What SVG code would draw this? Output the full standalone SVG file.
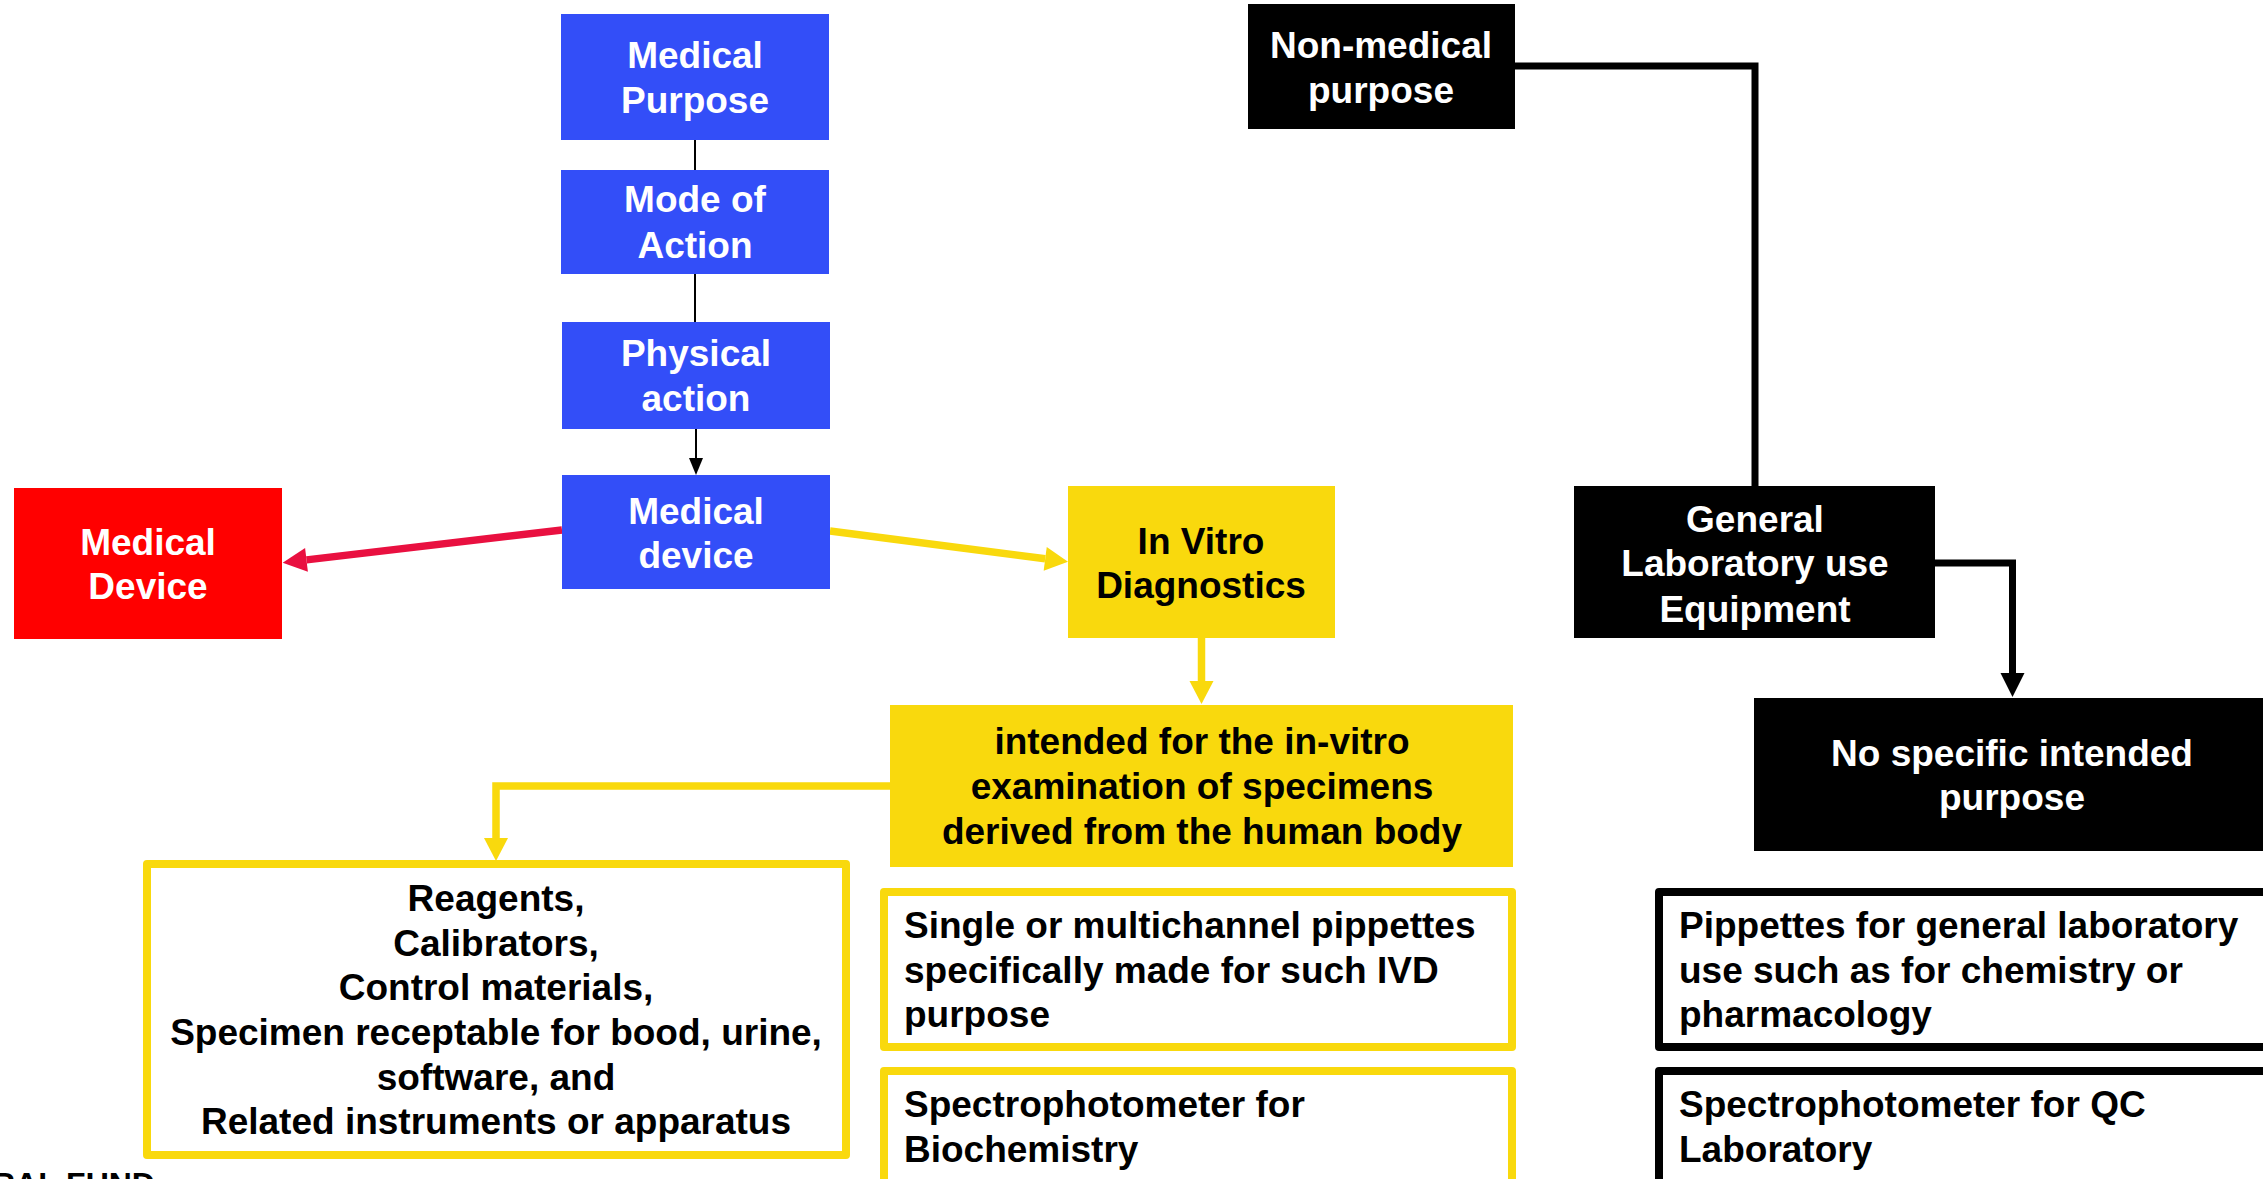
<svg xmlns="http://www.w3.org/2000/svg" width="2263" height="1179" viewBox="0 0 2263 1179">
  <style>
    text { font-family: "Liberation Sans", Arial, sans-serif; font-weight: bold; font-size: 37px; }
    .c { text-anchor: middle; }
    .w { fill: #ffffff; }
    .k { fill: #000000; }
    .blue { fill: #334EF8; }
    .red { fill: #FF0000; }
    .yel { fill: #F9D90D; }
    .blk { fill: #000000; }
    .ybox { fill: #ffffff; stroke: #F9D90D; stroke-width: 8; stroke-linejoin: round; }
    .kbox { fill: #ffffff; stroke: #000000; stroke-width: 8; stroke-linejoin: round; }
    .thin { fill: none; stroke: #000000; stroke-width: 2; }
    .ylw { fill: none; stroke: #F9D90D; stroke-width: 7.5; }
    .crim { fill: none; stroke: #E91040; stroke-width: 7.5; }
    .thick { fill: none; stroke: #000000; stroke-width: 7; }
  </style>
  <defs>
    <marker id="headThin" markerUnits="userSpaceOnUse" markerWidth="17" markerHeight="14" refX="0" refY="7" orient="auto" overflow="visible">
      <path d="M0,0 L17,7 L0,14 z" fill="#000000"/>
    </marker>
    <marker id="headRed" markerUnits="userSpaceOnUse" markerWidth="24" markerHeight="24" refX="0" refY="12" orient="auto" overflow="visible">
      <path d="M0,0 L24,12 L0,24 z" fill="#E91040"/>
    </marker>
    <marker id="headYellow" markerUnits="userSpaceOnUse" markerWidth="23" markerHeight="24" refX="0" refY="12" orient="auto" overflow="visible">
      <path d="M0,0 L23,12 L0,24 z" fill="#F9D90D"/>
    </marker>
    <marker id="headBlack" markerUnits="userSpaceOnUse" markerWidth="24" markerHeight="24" refX="0" refY="12" orient="auto" overflow="visible">
      <path d="M0,0 L24,12 L0,24 z" fill="#000000"/>
    </marker>
  </defs>

  <rect width="2263" height="1179" fill="#ffffff"/>

  <!-- connectors -->
  <g id="connectors">
    <path class="thin" d="M695,140 V170"/>
    <path class="thin" d="M695,274 V322"/>
    <path class="thin" d="M696,429 V458" marker-end="url(#headThin)"/>
    <path class="crim" d="M562,530 L306.5,559.9" marker-end="url(#headRed)"/>
    <path class="ylw" d="M830,531 L1045.2,558.8" marker-end="url(#headYellow)"/>
    <path class="ylw" d="M1201.5,638 V681" marker-end="url(#headYellow)"/>
    <path class="ylw" d="M890,786 H496 V838" marker-end="url(#headYellow)"/>
    <path class="thick" d="M1515,66 H1755 V486"/>
    <path class="thick" d="M1935,563 H2012.5 V673" marker-end="url(#headBlack)"/>
  </g>

  <g id="medical-purpose">
    <rect class="blue" x="561" y="14" width="268" height="126"/>
    <text class="c w" x="695" y="68">Medical</text>
    <text class="c w" x="695" y="113">Purpose</text>
  </g>

  <g id="mode-of-action">
    <rect class="blue" x="561" y="170" width="268" height="104"/>
    <text class="c w" x="695" y="212">Mode of</text>
    <text class="c w" x="695" y="258">Action</text>
  </g>

  <g id="physical-action">
    <rect class="blue" x="562" y="322" width="268" height="107"/>
    <text class="c w" x="696" y="366">Physical</text>
    <text class="c w" x="696" y="411">action</text>
  </g>

  <g id="medical-device">
    <rect class="blue" x="562" y="475" width="268" height="114"/>
    <text class="c w" x="696" y="524">Medical</text>
    <text class="c w" x="696" y="568">device</text>
  </g>

  <g id="medical-device-class">
    <rect class="red" x="14" y="488" width="268" height="151"/>
    <text class="c w" x="148" y="555">Medical</text>
    <text class="c w" x="148" y="599">Device</text>
  </g>

  <g id="in-vitro-diagnostics">
    <rect class="yel" x="1068" y="486" width="267" height="152"/>
    <text class="c k" x="1201" y="554">In Vitro</text>
    <text class="c k" x="1201" y="598">Diagnostics</text>
  </g>

  <g id="ivd-definition">
    <rect class="yel" x="890" y="705" width="623" height="162"/>
    <text class="c k" x="1202" y="754">intended for the in-vitro</text>
    <text class="c k" x="1202" y="799">examination of specimens</text>
    <text class="c k" x="1202" y="844">derived from the human body</text>
  </g>

  <g id="ivd-products">
    <rect class="ybox" x="147" y="864" width="699" height="291"/>
    <text class="c k" x="496" y="911">Reagents,</text>
    <text class="c k" x="496" y="956">Calibrators,</text>
    <text class="c k" x="496" y="1000">Control materials,</text>
    <text class="c k" x="496" y="1045">Specimen receptable for bood, urine,</text>
    <text class="c k" x="496" y="1090">software, and</text>
    <text class="c k" x="496" y="1134">Related instruments or apparatus</text>
  </g>

  <g id="ivd-pipettes">
    <rect class="ybox" x="884" y="892" width="628" height="155"/>
    <text class="k" x="904" y="938">Single or multichannel pippettes</text>
    <text class="k" x="904" y="982.5">specifically made for such IVD</text>
    <text class="k" x="904" y="1027">purpose</text>
  </g>

  <g id="ivd-spectrophotometer">
    <rect class="ybox" x="884" y="1071" width="628" height="200"/>
    <text class="k" x="904" y="1117">Spectrophotometer for</text>
    <text class="k" x="904" y="1161.5">Biochemistry</text>
  </g>

  <g id="non-medical-purpose">
    <rect class="blk" x="1248" y="4" width="267" height="125"/>
    <text class="c w" x="1381" y="58">Non-medical</text>
    <text class="c w" x="1381" y="103">purpose</text>
  </g>

  <g id="general-lab-equipment">
    <rect class="blk" x="1574" y="486" width="361" height="152"/>
    <text class="c w" x="1755" y="531.5">General</text>
    <text class="c w" x="1755" y="576">Laboratory use</text>
    <text class="c w" x="1755" y="621.5">Equipment</text>
  </g>

  <g id="no-specific-purpose">
    <rect class="blk" x="1754" y="698" width="520" height="153"/>
    <text class="c w" x="2012" y="766">No specific intended</text>
    <text class="c w" x="2012" y="810">purpose</text>
  </g>

  <g id="general-pipettes">
    <rect class="kbox" x="1659" y="892" width="700" height="155"/>
    <text class="k" x="1679" y="938">Pippettes for general laboratory</text>
    <text class="k" x="1679" y="982.5">use such as for chemistry or</text>
    <text class="k" x="1679" y="1027">pharmacology</text>
  </g>

  <g id="qc-spectrophotometer">
    <rect class="kbox" x="1659" y="1071" width="700" height="200"/>
    <text class="k" x="1679" y="1117">Spectrophotometer for QC</text>
    <text class="k" x="1679" y="1161.5">Laboratory</text>
  </g>

  <text class="k" x="-8" y="1195" style="font-size:32px">RAL FUND</text>
</svg>
